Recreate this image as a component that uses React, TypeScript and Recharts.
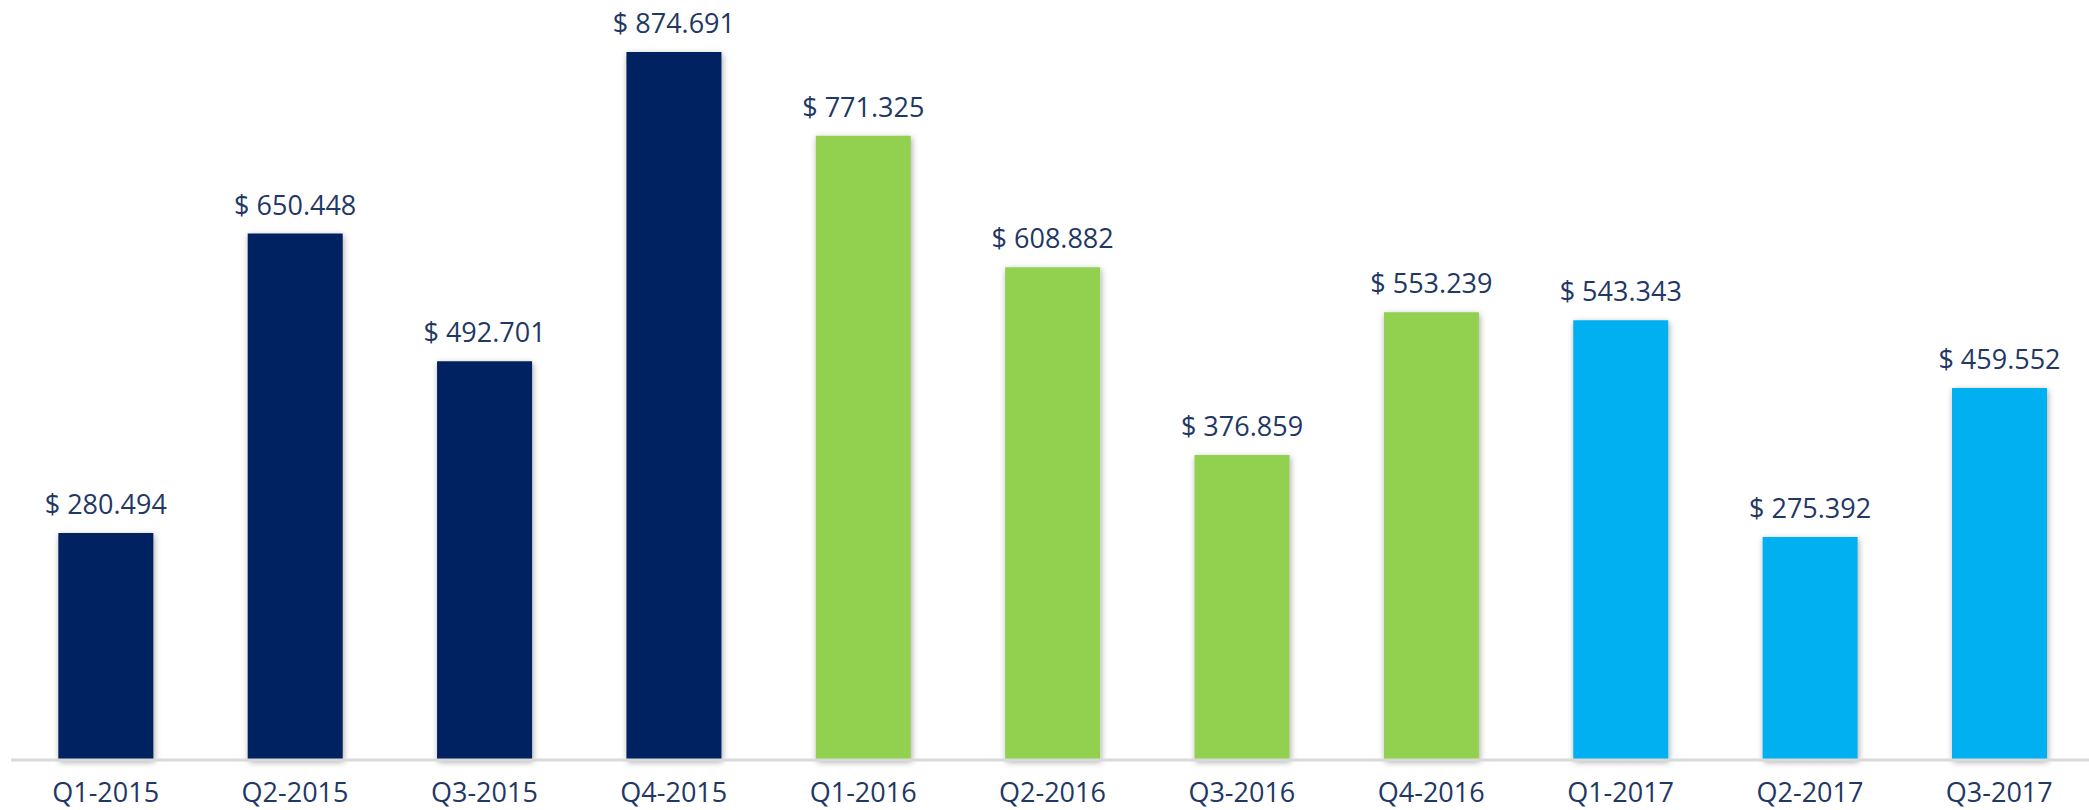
import { Bar, BarChart, Cell, LabelList, XAxis, YAxis } from "recharts";

const quarters = [
  "Q1-2015", "Q2-2015", "Q3-2015", "Q4-2015",
  "Q1-2016", "Q2-2016", "Q3-2016", "Q4-2016",
  "Q1-2017", "Q2-2017", "Q3-2017",
];
const ventas = [
  280.494, 650.448, 492.701, 874.691,
  771.325, 608.882, 376.859, 553.239,
  543.343, 275.392, 459.552,
];
const coloresAnio: Record<string, string> = {
  "2015": "#002060",
  "2016": "#92D050",
  "2017": "#00B0F0",
};

const data = quarters.map((q, i) => ({ periodo: q, valor: ventas[i] }));

const TEXT = "#1F3864";
const FONT = "'Open Sans', 'Noto Sans', sans-serif";

function ValueLabel(props: any) {
  const { x, y, width, value } = props;
  return (
    <text
      x={Number(x) + Number(width) / 2}
      y={Number(y) - 19}
      textAnchor="middle"
      fill={TEXT}
      fontSize={27}
      fontFamily={FONT}
    >
      {`$ ${Number(value).toFixed(3)}`}
    </text>
  );
}

export default function App() {
  return (
    <div
      style={{
        position: "absolute",
        left: 0,
        top: 0,
        width: 2089,
        height: 810,
        overflow: "hidden",
        background: "#fff",
      }}
    >
      <BarChart
        width={2100}
        height={810}
        data={data}
        margin={{ top: 52, right: 6, left: 11, bottom: 0 }}
        barCategoryGap="25%"
      >
        <defs>
          <filter id="sombra" x="-20%" y="-5%" width="140%" height="110%">
            <feDropShadow dx="1" dy="2" stdDeviation="3" floodColor="#000" floodOpacity="0.35" />
          </filter>
        </defs>
        <XAxis
          dataKey="periodo"
          axisLine={{ stroke: "#d9d9d9", strokeWidth: 3 }}
          tickLine={false}
          tickSize={0}
          tickMargin={23}
          height={50}
          interval={0}
          tick={{ fill: TEXT, fontSize: 27, fontFamily: FONT }}
        />
        <YAxis hide domain={[0, "dataMax"]} />
        <Bar dataKey="valor" isAnimationActive={false} filter="url(#sombra)">
          {data.map((d) => (
            <Cell key={d.periodo} fill={coloresAnio[d.periodo.slice(3)]} />
          ))}
          <LabelList dataKey="valor" content={ValueLabel} />
        </Bar>
      </BarChart>
    </div>
  );
}
